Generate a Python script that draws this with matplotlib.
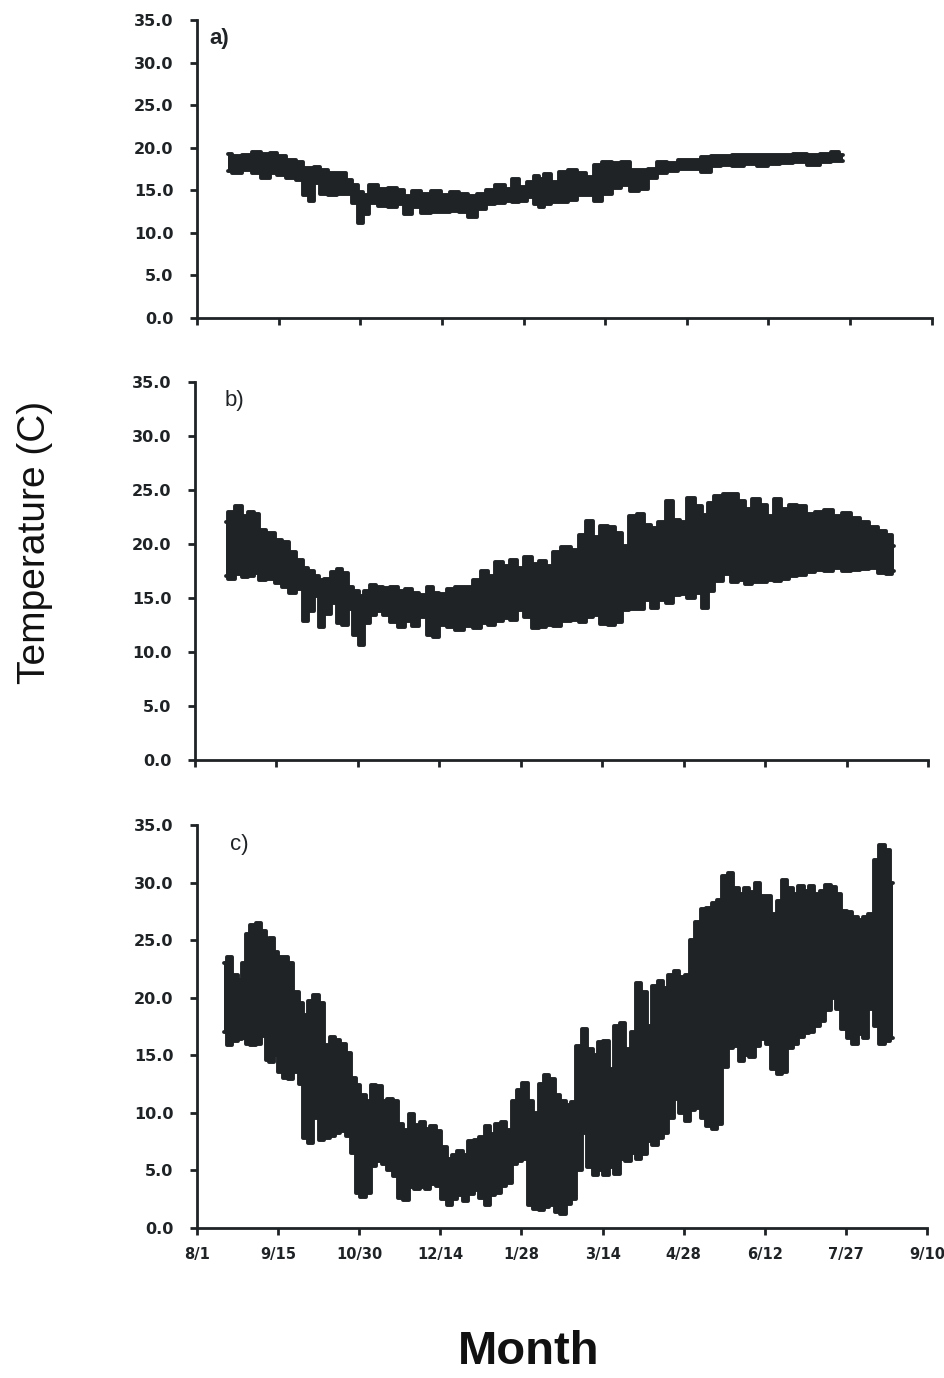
"""Three-panel water temperature record (a, b, c), 8/1 through 9/10."""
import matplotlib
matplotlib.use("Agg")
import matplotlib.pyplot as plt
import numpy as np

# ---- data: day offset from 8/1, daily low / high envelope (deg C) ----------

a_day = [17, 22, 28, 33, 38, 42, 46, 52, 57, 60, 63, 66, 70, 74, 80, 84, 87, 90, 93, 97,
         103, 108, 112, 116, 121, 126, 132, 137, 142, 147, 152, 157, 162, 167, 172, 175,
         180, 184, 187, 190, 193, 197, 202, 207, 212, 217, 221, 226, 231, 236, 241, 246,
         251, 256, 262, 268, 275, 281, 286, 292, 298, 305, 312, 318, 325, 332, 340, 347,
         352, 356]
a_lo = [17.3, 17.0, 17.4, 17.0, 16.5, 17.0, 16.8, 16.4, 16.2, 14.5, 13.7, 15.8, 14.6, 14.5,
        14.6, 14.6, 13.5, 11.2, 12.2, 13.5, 13.2, 13.0, 13.4, 12.2, 13.0, 12.3, 12.4, 12.4,
        12.6, 12.5, 11.9, 12.8, 13.4, 13.5, 13.8, 13.6, 13.7, 14.2, 13.4, 13.0, 13.4, 13.6,
        13.6, 13.9, 14.4, 14.5, 13.8, 14.6, 15.3, 15.6, 14.9, 15.2, 16.4, 17.0, 17.3, 17.5,
        17.5, 17.2, 17.8, 18.0, 17.8, 18.1, 17.9, 18.1, 18.2, 18.3, 18.0, 18.3, 18.4, 18.4]
a_hi = [19.3, 19.0, 19.2, 19.5, 19.3, 19.4, 19.0, 18.6, 18.3, 17.6, 17.6, 17.7, 17.4, 17.0,
        17.0, 16.2, 15.6, 14.8, 14.5, 15.6, 15.2, 15.3, 15.0, 14.3, 14.9, 14.6, 14.9, 14.5,
        14.8, 14.6, 14.3, 14.6, 15.0, 15.6, 15.2, 16.3, 15.4, 16.0, 16.7, 16.3, 16.9, 16.0,
        17.2, 17.4, 17.0, 16.6, 18.0, 18.3, 18.2, 18.3, 17.4, 17.4, 17.5, 18.3, 18.2, 18.6,
        18.6, 18.9, 19.0, 19.0, 19.1, 19.1, 19.2, 19.2, 19.2, 19.3, 19.2, 19.3, 19.5, 19.2]

b_day = [17, 20, 24, 28, 31, 34, 37, 42, 46, 50, 54, 58, 61, 64, 67, 70, 73, 77, 80, 83,
         86, 89, 92, 95, 98, 102, 106, 110, 114, 118, 122, 126, 130, 133, 137, 141, 146,
         151, 156, 160, 164, 168, 172, 176, 180, 184, 188, 192, 196, 200, 205, 210, 214,
         218, 222, 226, 230, 234, 238, 242, 246, 250, 254, 258, 262, 266, 270, 274, 278,
         282, 285, 289, 294, 298, 302, 306, 310, 314, 318, 322, 326, 330, 335, 340, 345,
         350, 355, 360, 365, 370, 375, 380, 384, 386]
b_lo = [17.0, 16.8, 17.2, 16.9, 17.0, 17.3, 16.7, 16.8, 16.4, 16.0, 15.5, 15.8, 12.9, 13.8,
        15.2, 12.3, 13.5, 14.5, 12.7, 12.5, 14.0, 11.6, 10.6, 12.7, 13.4, 13.8, 13.4, 12.8,
        12.3, 12.9, 12.4, 13.2, 11.6, 11.4, 12.5, 12.3, 12.0, 12.4, 12.2, 12.7, 12.5, 12.9,
        13.1, 13.0, 13.9, 13.2, 12.2, 12.3, 12.5, 12.4, 12.9, 13.0, 12.8, 13.2, 13.4, 12.6,
        12.5, 12.8, 13.9, 14.0, 14.0, 14.8, 14.1, 14.8, 14.5, 15.3, 15.4, 15.0, 15.5, 14.1,
        15.6, 16.6, 17.2, 16.5, 16.7, 16.3, 16.5, 16.5, 16.7, 16.6, 16.8, 17.0, 17.1, 17.4,
        17.6, 17.5, 17.8, 17.5, 17.6, 17.7, 17.8, 17.3, 17.2, 17.5]
b_hi = [22.0, 23.0, 23.5, 22.6, 23.0, 22.8, 21.3, 21.0, 20.4, 20.2, 19.3, 18.5, 17.8, 17.5,
        17.0, 16.7, 16.8, 17.4, 17.7, 17.3, 16.0, 15.6, 15.2, 15.6, 16.2, 16.0, 15.9, 16.0,
        15.6, 15.8, 15.5, 15.3, 16.0, 15.5, 15.4, 15.8, 16.0, 16.0, 16.7, 17.5, 17.0, 18.3,
        18.0, 18.5, 17.8, 18.8, 18.1, 18.4, 18.0, 19.3, 19.7, 19.4, 20.8, 22.1, 20.6, 21.7,
        21.6, 21.0, 19.8, 22.6, 22.8, 21.8, 21.5, 22.0, 24.0, 22.2, 22.0, 24.3, 23.5, 22.7,
        23.8, 24.4, 24.6, 24.6, 24.0, 23.2, 24.2, 23.6, 22.6, 24.2, 23.2, 23.6, 23.5, 22.8,
        23.0, 23.1, 22.6, 22.9, 22.4, 22.0, 21.6, 21.2, 20.8, 19.8]

c_day = [15, 18, 21, 24, 26, 28, 31, 34, 37, 39, 41, 44, 46, 49, 52, 55, 58, 60, 63, 66,
         69, 72, 75, 78, 81, 84, 87, 89, 92, 95, 98, 101, 104, 107, 110, 113, 116, 119,
         122, 125, 128, 131, 134, 137, 140, 143, 146, 149, 152, 155, 158, 161, 164, 167,
         170, 173, 176, 179, 182, 185, 188, 191, 194, 197, 200, 203, 206, 209, 212, 215,
         218, 221, 224, 227, 230, 233, 236, 239, 242, 245, 248, 251, 254, 257, 260, 263,
         266, 269, 272, 275, 278, 281, 284, 287, 290, 293, 296, 299, 302, 305, 308, 311,
         314, 317, 320, 323, 326, 329, 332, 335, 338, 341, 344, 347, 350, 353, 356, 359,
         362, 365, 368, 371, 374, 377, 380, 383, 386]
c_lo = [17.0, 15.9, 16.2, 16.4, 16.5, 16.0, 15.9, 16.0, 16.7, 14.6, 14.4, 15.0, 13.5, 13.0,
        12.9, 13.5, 12.5, 7.8, 7.4, 9.5, 7.6, 7.8, 8.0, 8.2, 8.4, 8.0, 6.5, 3.0, 2.7, 3.0,
        5.4, 5.8, 5.5, 5.0, 4.5, 2.6, 2.4, 3.5, 3.4, 3.5, 3.4, 3.8, 3.6, 2.5, 2.0, 2.5, 2.8,
        2.3, 2.9, 3.3, 2.6, 2.0, 2.8, 3.0, 3.6, 3.9, 5.5, 5.8, 6.0, 2.0, 1.6, 1.5, 1.8, 2.0,
        1.4, 1.2, 2.1, 2.5, 5.0, 8.2, 5.3, 4.6, 5.0, 4.6, 5.3, 4.7, 6.0, 5.8, 6.5, 6.0, 6.4,
        7.5, 7.2, 7.8, 8.2, 9.5, 11.2, 10.0, 9.3, 10.2, 10.4, 9.5, 8.8, 8.6, 9.0, 14.0, 15.6,
        15.8, 14.5, 15.0, 14.8, 15.8, 16.4, 16.0, 13.8, 13.4, 13.5, 15.6, 16.0, 16.6, 16.9,
        17.0, 17.5, 18.0, 18.9, 20.0, 19.0, 17.3, 16.5, 16.0, 16.8, 16.5, 19.0, 17.5, 16.0,
        16.2, 16.5]
c_hi = [23.0, 23.5, 22.0, 21.5, 23.0, 25.5, 26.3, 26.5, 25.8, 24.5, 25.2, 24.0, 23.5, 23.5,
        23.0, 20.5, 19.5, 18.5, 19.7, 20.2, 19.5, 15.9, 16.6, 16.3, 16.0, 15.2, 13.0, 12.4,
        11.5, 11.0, 12.4, 12.3, 11.0, 11.2, 11.0, 9.0, 8.5, 9.9, 8.9, 9.2, 8.6, 8.8, 8.4, 7.0,
        6.0, 6.3, 6.7, 6.3, 7.5, 7.6, 7.9, 8.8, 8.1, 9.0, 9.2, 8.5, 11.0, 12.0, 12.6, 11.0,
        10.0, 12.5, 13.3, 12.9, 11.5, 11.0, 10.7, 10.9, 15.8, 17.3, 15.5, 15.0, 16.1, 16.2,
        13.8, 17.5, 17.8, 15.5, 17.0, 21.3, 20.5, 17.5, 21.0, 21.4, 20.8, 22.0, 22.3, 21.8,
        22.0, 25.0, 26.6, 27.7, 27.8, 28.2, 28.5, 30.6, 30.8, 29.5, 29.0, 29.5, 29.2, 30.0,
        28.8, 28.8, 27.3, 28.4, 30.2, 29.5, 29.0, 29.7, 29.3, 29.7, 29.0, 29.3, 29.8, 29.6,
        29.0, 27.5, 27.4, 27.0, 26.7, 27.0, 27.3, 32.0, 33.3, 32.8, 30.0]

month_labels = ["8/1", "9/15", "10/30", "12/14", "1/28", "3/14", "4/28", "6/12", "7/27", "9/10"]
temp_ticks = [0, 5, 10, 15, 20, 25, 30, 35]

INK = "#1f2326"

panels = [
    ("a)", a_day, a_lo, a_hi, [0.2085, 0.7692, 0.7775, 0.2163], (0.232, 0.972), "bold"),
    ("b)", b_day, b_lo, b_hi, [0.2063, 0.4485, 0.7757, 0.2743], (0.248, 0.709), "normal"),
    ("c)", c_day, c_lo, c_hi, [0.2085, 0.1091, 0.7725, 0.2922], (0.253, 0.387), "normal"),
]

plt.rcParams["font.family"] = ["Liberation Sans", "DejaVu Sans"]

fig = plt.figure(figsize=(9.45, 13.78), dpi=100)

for i, (tag, day, lo, hi, rect, tag_xy, tag_w) in enumerate(panels):
    ax = fig.add_axes(rect)
    # blocky envelope with a heavy outline, like the dense logger markers
    ax.fill_between(day, lo, hi, step="mid", color=INK, lw=0)
    for edge in (lo, hi):
        ax.plot(day, edge, drawstyle="steps-mid", color=INK, lw=2.8,
                solid_joinstyle="round", solid_capstyle="round")
    ax.set_xlim(0, 405)
    ax.set_ylim(0, 35)
    ax.set_xticks(np.arange(0, 406, 45))
    ax.set_yticks(temp_ticks)
    ax.set_yticklabels([f"{t:.1f}" for t in temp_ticks], fontweight="bold",
                       family="DejaVu Sans", fontsize=11.5)
    if i == 2:
        ax.set_xticklabels(month_labels, fontweight="bold", family="DejaVu Sans",
                           fontsize=10.5)
    else:
        ax.set_xticklabels([])
    for s in ("top", "right"):
        ax.spines[s].set_visible(False)
    for s in ("left", "bottom"):
        ax.spines[s].set_linewidth(2.0)
        ax.spines[s].set_color(INK)
    ax.tick_params(axis="both", direction="out", length=5, width=2.0, color=INK,
                   labelcolor=INK)
    ax.tick_params(axis="y", pad=12)
    ax.tick_params(axis="x", pad=9)
    fig.text(tag_xy[0], tag_xy[1], tag, fontsize=16, fontweight=tag_w, color=INK,
             ha="center", va="center")

fig.text(0.037, 0.606, "Temperature (C)", rotation=90, fontsize=28, color="#111111",
         ha="center", va="center")
fig.text(0.559, 0.019, "Month", fontsize=34, fontweight="bold", color="#111111",
         ha="center", va="center")

fig.savefig("out.png", dpi=100)
